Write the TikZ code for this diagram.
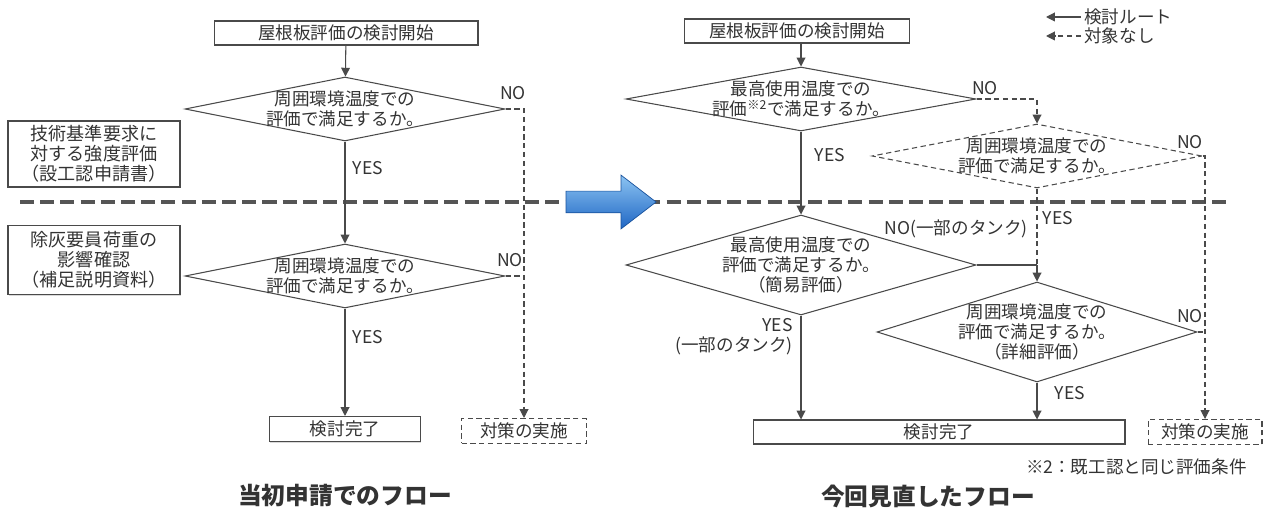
\documentclass[tikz,border=0pt]{standalone}
\usepackage{fontspec}
\newfontfamily\jp{Noto Sans CJK JP}
\usetikzlibrary{arrows.meta,shapes.geometric,shapes.arrows,shadows}
\definecolor{lineg}{HTML}{4A4A4A}
\definecolor{textg}{HTML}{333333}
\definecolor{sepg}{HTML}{555555}
\definecolor{arrowtop}{HTML}{8CC4F2}
\definecolor{arrowbot}{HTML}{1F66C4}
\tikzset{
  startbox/.style={
    draw=lineg,
    line width=0.6pt,
    fill=white,
    minimum height=0.48cm,
    inner sep=0pt,
    font=\jp\fontsize{10}{12}\selectfont,
    text=textg,
    drop shadow={shadow xshift=0.5pt,shadow yshift=-0.8pt,opacity=0.3}
  },
  sidebox/.style={
    draw=lineg,
    line width=0.6pt,
    fill=white,
    minimum width=3.44cm,
    inner sep=0pt,
    align=center,
    font=\jp\fontsize{10.3}{11.5}\selectfont,
    text=textg,
    drop shadow={shadow xshift=0.5pt,shadow yshift=-0.8pt,opacity=0.3}
  },
  nobox/.style={
    draw=lineg,
    line width=0.6pt,
    dash pattern=on 3pt off 2pt,
    fill=white,
    minimum height=0.5cm,
    inner sep=0pt,
    font=\jp\fontsize{10}{12}\selectfont,
    text=textg
  },
  check/.style={
    diamond,
    draw=lineg,
    line width=0.6pt,
    fill=white,
    inner sep=-2pt,
    align=center,
    font=\jp\fontsize{10}{11.5}\selectfont,
    text=textg
  },
  lbl/.style={inner sep=0pt, font=\jp\fontsize{10}{11.5}\selectfont, text=textg},
  title/.style={inner sep=0pt, font=\jp\bfseries\fontsize{13.5}{16}\selectfont, text=textg},
  flow/.style={-{Triangle[length=5pt,width=5pt]}, line width=0.6pt, draw=lineg},
  noflow/.style={-{Triangle[length=5pt,width=5pt]}, line width=0.6pt, draw=lineg, dash pattern=on 3pt off 2pt},
  noline/.style={line width=0.6pt, draw=lineg, dash pattern=on 3pt off 2pt},
  sepline/.style={draw=sepg, line width=2.2pt, dash pattern=on 8pt off 3.5pt},
  bigarrow/.style={
    single arrow,
    draw=arrowbot!80!black,
    line width=0.4pt,
    top color=arrowtop,
    bottom color=arrowbot,
    minimum height=1.80cm,
    inner sep=0.21cm,
    single arrow head extend=0.32cm,
    single arrow tip angle=75
  }
}

\begin{document}
\begin{tikzpicture}[x=0.02cm, y=-0.02cm]
  \useasboundingbox (0,0) rectangle (1263,509);

  % phase separator
  \draw[sepline] (20,202) -- (1230,202);
  \node[bigarrow] (shift) at (604,202) {};

  % left flow
  \node[startbox, minimum width=5.28cm] (sL) at (346,33) {屋根板評価の検討開始};
  \node[check, aspect=5, minimum width=6.4cm, minimum height=1.28cm] (dL1) at (345,109) {周囲環境温度での\\評価で満足するか。};
  \node[check, aspect=5, minimum width=6.4cm, minimum height=1.28cm] (dL2) at (345,276) {周囲環境温度での\\評価で満足するか。};
  \node[sidebox, minimum height=1.32cm] (req) at (94,154) {技術基準要求に\\対する強度評価\\（設工認申請書）};
  \node[sidebox, minimum height=1.38cm] (ash) at (94,260) {除灰要員荷重の\\影響確認\\（補足説明資料）};
  \node[startbox, minimum width=3.02cm, minimum height=0.5cm] (eL) at (345,429) {検討完了};
  \node[nobox, minimum width=2.5cm] (tL) at (524,431) {対策の実施};

  \node[lbl] (yesL1) at (368,168) {YES};
  \node[lbl] (noL1) at (513,93) {NO};
  \node[lbl] (noL2) at (510,260) {NO};
  \node[lbl] (yesL2) at (368,337) {YES};
  \node[title] (ttlL) at (345,496) {当初申請でのフロー};

  \draw[flow] (sL) -- (dL1);
  \draw[flow] (dL1) -- (dL2);
  \draw[flow] (dL2) -- (eL);
  \draw[noflow] (dL1.east) -| (tL.north);
  \draw[noline] (dL2.east) -- (dL2.east -| tL.north);

  % right flow
  \node[startbox, minimum width=4.5cm] (sR) at (797,31) {屋根板評価の検討開始};
  \node[check, aspect=5, minimum width=7.0cm, minimum height=1.28cm] (dR1) at (801,99) {最高使用温度での\\評価\textsuperscript{※2}で満足するか。};
  \node[check, aspect=5, dash pattern=on 3pt off 2pt, minimum width=6.6cm, minimum height=1.28cm] (dR2) at (1037,156) {周囲環境温度での\\評価で満足するか。};
  \node[check, aspect=3.5, minimum width=7.0cm, minimum height=2.0cm] (dR3) at (801,265) {最高使用温度での\\評価で満足するか。\\（簡易評価）};
  \node[check, aspect=3.2, minimum width=6.4cm, minimum height=2.0cm] (dR4) at (1037,332) {周囲環境温度での\\評価で満足するか。\\（詳細評価）};
  \node[startbox, minimum width=7.44cm] (eR) at (939,432) {検討完了};
  \node[nobox, minimum width=2.28cm] (tR) at (1205,432) {対策の実施};
  \coordinate (jR) at (1037,265);

  \node[lbl] (noR1) at (985,88) {NO};
  \node[lbl] (yesR1) at (830,155) {YES};
  \node[lbl] (noR2) at (1190,142) {NO};
  \node[lbl] (yesR2) at (1058,218) {YES};
  \node[lbl, anchor=east] (noR3) at (1028,229) {NO(一部のタンク)};
  \node[lbl, anchor=east, align=right] (yesR3) at (793,337) {YES\\(一部のタンク)};
  \node[lbl] (noR4) at (1190,316) {NO};
  \node[lbl] (yesR4) at (1070,393) {YES};
  \node[lbl, anchor=east] (note) at (1247,467) {※2：既工認と同じ評価条件};
  \node[title] (ttlR) at (928,496) {今回見直したフロー};

  \draw[flow] (sR.south -| dR1.north) -- (dR1);
  \draw[flow] (dR1) -- (dR3);
  \draw[noflow] (dR1.east) -| (dR2.north);
  \draw[noflow] (dR2.east) -| (tR.north);
  \draw[noline] (dR2.south) -- (jR);
  \draw[line width=0.6pt, draw=lineg] (dR3.east) -- (jR);
  \draw[flow] (jR) -- (dR4.north);
  \draw[flow] (dR3.south) -- (dR3.south |- eR.north);
  \draw[flow] (dR4.south) -- (dR4.south |- eR.north);
  \draw[noline] (dR4.east) -- (dR4.east -| tR.north);

  % legend
  \node[lbl, anchor=west] (lgRoute) at (1084,17) {検討ルート};
  \node[lbl, anchor=west] (lgNone) at (1084,36) {対象なし};
  \coordinate (lgRouteEnd) at (1046,17);
  \coordinate (lgNoneEnd) at (1046,36);
  \draw[flow] (lgRoute.west) ++(-3,0) -- (lgRouteEnd);
  \draw[noflow] (lgNone.west) ++(-3,0) -- (lgNoneEnd);
\end{tikzpicture}
\end{document}
